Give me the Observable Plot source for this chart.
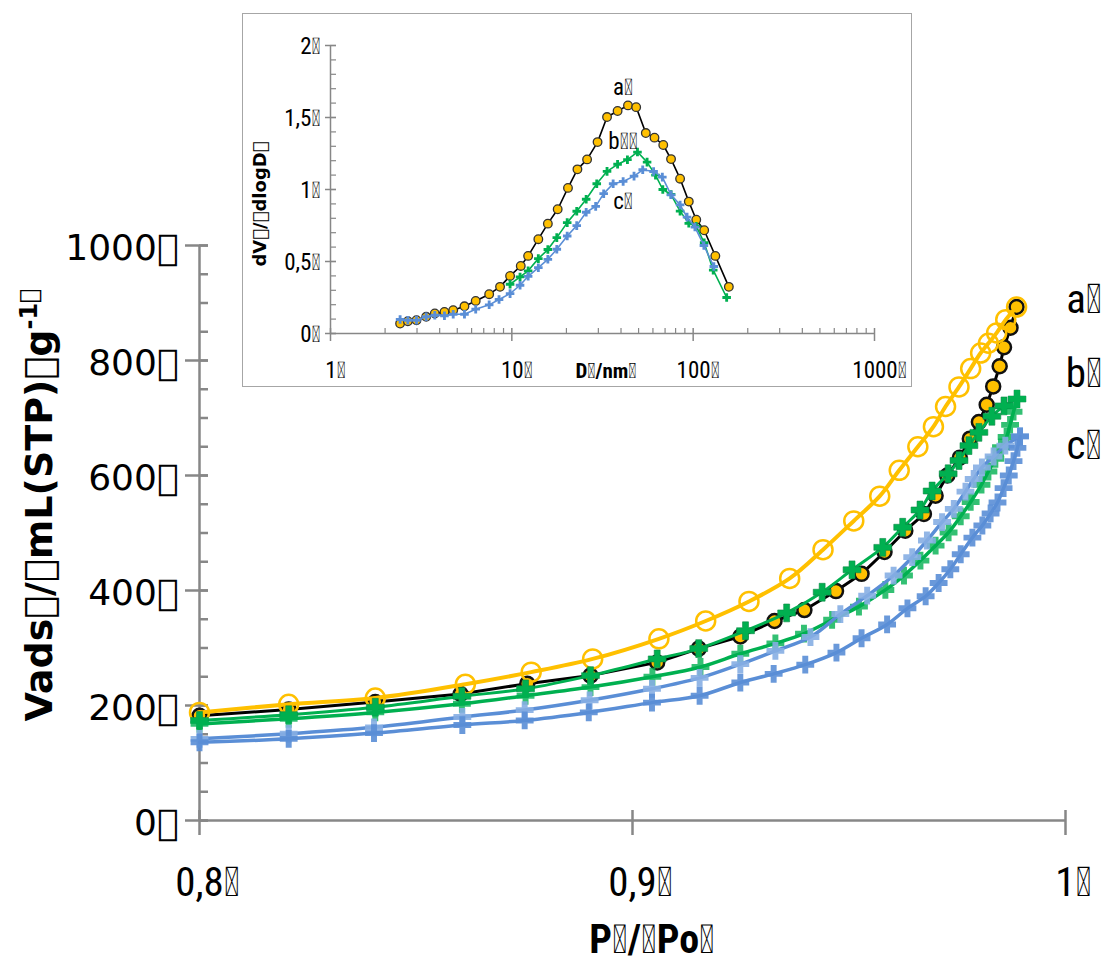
<!DOCTYPE html>
<html><head><meta charset="utf-8">
<script src="https://cdn.jsdelivr.net/npm/d3@7"></script>
<script src="https://cdn.jsdelivr.net/npm/@observablehq/plot@0.6"></script>
<style>
body{margin:0;background:#fff;}
#wrap{position:relative;width:1120px;height:967px;overflow:hidden;background:#fff;}
#main{position:absolute;left:0;top:0;}
#inset{position:absolute;left:242px;top:13px;width:670px;height:374px;}
#inset svg{outline:1.5px solid #a6a6a6;outline-offset:-1px;background:#fff;}
</style></head><body>
<div id="wrap"><div id="main"></div><div id="inset"></div></div>
<script>
const T = "\uF020";
const NARROW = "'Liberation Sans Narrow', 'Roboto Condensed', Roboto, sans-serif";
const WIDE = "'DejaVu Sans', Verdana, sans-serif";

// ---------- main chart: relative pressure P/Po vs adsorbed volume ----------
const xTicksMain = [0.8, 0.9, 1];
const yTicksMain = [0, 200, 400, 600, 800, 1000];
const seriesLabels = ["a", "b", "c"];

const aAdsP = [0.8, 0.8206, 0.8406, 0.8603, 0.8757, 0.8903, 0.9057, 0.9153, 0.9249, 0.9328, 0.9397, 0.9470, 0.9529, 0.9582, 0.9630, 0.9673, 0.9700, 0.9727, 0.9756, 0.9779, 0.9800, 0.9818, 0.9833, 0.9848, 0.9858, 0.9873, 0.9887];
const aAdsV = [182, 193, 206, 220, 238, 252, 275, 299, 320, 347, 366, 399, 429, 467, 504, 533, 565, 600, 631, 664, 693, 723, 755, 790, 823, 857, 893];

const aDesP = [0.8, 0.8206, 0.8406, 0.8614, 0.8766, 0.8908, 0.9061, 0.9169, 0.9269, 0.9363, 0.9440, 0.9511, 0.9571, 0.9616, 0.9659, 0.9695, 0.9723, 0.9754, 0.9781, 0.9804, 0.9822, 0.9841, 0.9862, 0.9887];
const aDesV = [188, 202, 213, 237, 258, 281, 316, 347, 381, 421, 471, 521, 564, 609, 650, 685, 720, 754, 786, 813, 830, 848, 871, 893];

const bDesP = [0.8, 0.8206, 0.8406, 0.8606, 0.8753, 0.8903, 0.9057, 0.9153, 0.9261, 0.9356, 0.9438, 0.9507, 0.9578, 0.9624, 0.9664, 0.9692, 0.9729, 0.9754, 0.9777, 0.9800, 0.9830, 0.9858, 0.9888];
const bDesV = [174, 184, 197, 216, 229, 252, 281, 299, 330, 361, 397, 436, 475, 510, 540, 573, 603, 626, 652, 675, 703, 721, 733];

const bAdsP = [0.8, 0.8206, 0.8406, 0.8606, 0.8753, 0.8903, 0.9046, 0.9157, 0.9249, 0.9330, 0.9396, 0.9461, 0.9523, 0.9584, 0.9627, 0.9665, 0.9700, 0.9730, 0.9758, 0.9781, 0.9806, 0.9822, 0.9838, 0.9851, 0.9864, 0.9872, 0.9880, 0.9888];
const bAdsV = [168, 177, 188, 203, 217, 232, 250, 267, 290, 308, 325, 349, 372, 401, 426, 452, 478, 501, 529, 554, 584, 607, 629, 649, 667, 688, 711, 733];

const cDesP = [0.8, 0.8206, 0.8403, 0.8607, 0.8751, 0.8901, 0.9045, 0.9155, 0.9249, 0.9330, 0.9411, 0.9480, 0.9542, 0.9603, 0.9646, 0.9680, 0.9715, 0.9742, 0.9769, 0.9788, 0.9807, 0.9834, 0.9861, 0.9895];
const cDesV = [142, 151, 162, 180, 192, 209, 229, 248, 272, 295, 319, 359, 391, 426, 458, 487, 519, 542, 572, 594, 614, 633, 652, 668];

const cAdsP = [0.8, 0.8206, 0.8403, 0.8607, 0.8751, 0.8899, 0.9045, 0.9155, 0.9249, 0.9326, 0.9399, 0.9471, 0.9529, 0.9588, 0.9635, 0.9677, 0.9707, 0.9734, 0.9758, 0.9785, 0.9808, 0.9827, 0.9843, 0.9857, 0.9869, 0.9880, 0.9889, 0.9895];
const cAdsV = [136, 142, 152, 166, 174, 188, 205, 217, 240, 255, 271, 292, 317, 341, 369, 390, 413, 437, 463, 492, 513, 534, 553, 578, 600, 625, 648, 668];

// ---------- inset: pore size distribution ----------
const insetXTicks = [1, 10, 100, 1000];
const insetYTicks = [0, 0.5, 1, 1.5, 2];

const aD = [2.42, 2.67, 2.98, 3.37, 3.76, 4.25, 4.75, 5.48, 6.32, 7.50, 8.61, 9.78, 11.2, 12.3, 14.0, 15.8, 17.9, 20.4, 23.0, 26.0, 29.7, 33.5, 38.3, 43.7, 48.5, 54.8, 61.2, 68.4, 75.5, 84.7, 94.6, 104, 115, 132.5, 157.3];
const aPSD = [0.069, 0.085, 0.092, 0.116, 0.139, 0.150, 0.162, 0.189, 0.226, 0.273, 0.324, 0.400, 0.469, 0.539, 0.655, 0.763, 0.863, 1.011, 1.140, 1.209, 1.329, 1.503, 1.545, 1.584, 1.572, 1.392, 1.360, 1.309, 1.211, 1.075, 0.916, 0.79, 0.717, 0.539, 0.324];

const bD = [9.78, 11.1, 12.3, 14.0, 15.8, 17.7, 20.2, 22.8, 25.7, 29.4, 33.5, 38.3, 43.4, 49.3, 55.7, 62, 68, 75.5, 84.7, 94.6, 104, 115, 129, 153];
const bPSD = [0.342, 0.393, 0.435, 0.520, 0.583, 0.666, 0.770, 0.849, 0.932, 1.040, 1.126, 1.175, 1.207, 1.260, 1.190, 1.10, 1.00, 0.965, 0.85, 0.765, 0.745, 0.63, 0.44, 0.25];

const cD = [2.42, 2.67, 2.98, 3.37, 3.76, 4.25, 4.75, 5.48, 6.32, 7.50, 8.50, 9.78, 11.1, 12.3, 14.0, 15.8, 17.7, 20.2, 22.8, 25.7, 29.0, 32.1, 36.2, 41.1, 47.2, 52.7, 60.5, 67.6, 75.5, 84.7, 92.5, 102.3, 114.6, 130];
const cPSD = [0.097, 0.092, 0.092, 0.116, 0.127, 0.123, 0.134, 0.134, 0.169, 0.199, 0.236, 0.277, 0.335, 0.397, 0.457, 0.515, 0.585, 0.677, 0.749, 0.842, 0.883, 0.971, 1.040, 1.056, 1.093, 1.137, 1.125, 1.086, 0.963, 0.893, 0.808, 0.739, 0.611, 0.465];

// ---------- build tables ----------
const tbl = (X, Y) => X.map((x, i) => ({x, y: Y[i]}));
const aAds = tbl(aAdsP, aAdsV), aDes = tbl(aDesP, aDesV);
const bAds = tbl(bAdsP, bAdsV), bDes = tbl(bDesP, bDesV);
const cAds = tbl(cAdsP, cAdsV), cDes = tbl(cDesP, cDesV);
const aIn = tbl(aD, aPSD), bIn = tbl(bD, bPSD), cIn = tbl(cD, cPSD);

const AXIS = "#878787";
const ORANGE = "#FFC000", GREEN = "#00B050", BLUE = "#5A8ED6", BLUE_L = "#86AEE3";
const comma = d => String(d).replace(".", ",") + T;

const main = Plot.plot({
  width: 1120, height: 967,
  marginLeft: 199, marginRight: 55, marginTop: 245, marginBottom: 147,
  x: {domain: [0.8, 1], axis: null},
  y: {domain: [0, 1000], axis: null},
  style: {background: "transparent", overflow: "visible"},
  marks: [
    Plot.ruleX([0.8], {stroke: AXIS, strokeWidth: 2.5}),
    Plot.ruleY([0], {stroke: AXIS, strokeWidth: 2.5}),
    Plot.axisY({ticks: d3.range(0, 1001, 50), anchor: "left", label: null, tickSize: 9, dx: 9, tickFormat: () => "", stroke: AXIS, strokeWidth: 2.5}),
    Plot.axisY({ticks: yTicksMain, anchor: "left", label: null, tickSize: 23, dx: 9, tickFormat: () => "", stroke: AXIS, strokeWidth: 2.5}),
    Plot.axisY({ticks: yTicksMain, anchor: "left", label: null, tickSize: 0, tickPadding: 21, tickFormat: d => d + T, fontSize: 36, fontFamily: WIDE, fill: "#000", dy: 3}),
    Plot.axisX({ticks: xTicksMain, anchor: "bottom", label: null, tickSize: 25, dy: -10, tickFormat: () => "", stroke: AXIS, strokeWidth: 2.5}),
    Plot.axisX({ticks: xTicksMain, anchor: "bottom", label: null, tickSize: 0, tickPadding: 62, lineAnchor: "middle", tickFormat: comma, fontSize: 41, fontFamily: NARROW, fill: "#000", dx: 8}),

    Plot.line(aAds, {x: "x", y: "y", stroke: "#000", strokeWidth: 3}),
    Plot.dot(aAds, {x: "x", y: "y", r: 7, fill: ORANGE, stroke: "#111", strokeWidth: 2.5}),
    Plot.line(aDes, {x: "x", y: "y", stroke: ORANGE, strokeWidth: 4, curve: "catmull-rom"}),
    Plot.dot(aDes, {x: "x", y: "y", r: 9.5, fill: "none", stroke: ORANGE, strokeWidth: 2.5}),

    Plot.line(bDes, {x: "x", y: "y", stroke: GREEN, strokeWidth: 3, curve: "catmull-rom"}),
    Plot.dot(bDes, {x: "x", y: "y", symbol: "cross", r: 7.5, fill: GREEN, stroke: "#0a8a44", strokeWidth: 0.6}),
    Plot.line(bAds, {x: "x", y: "y", stroke: GREEN, strokeWidth: 3.5, curve: "catmull-rom"}),
    Plot.dot(bAds, {x: "x", y: "y", symbol: "cross", r: 7.5, fill: GREEN, fillOpacity: 0.8}),

    Plot.line(cDes, {x: "x", y: "y", stroke: BLUE, strokeWidth: 3.5, curve: "catmull-rom"}),
    Plot.dot(cDes, {x: "x", y: "y", symbol: "cross", r: 7.5, fill: BLUE_L, fillOpacity: 0.9}),
    Plot.line(cAds, {x: "x", y: "y", stroke: BLUE, strokeWidth: 3.5, curve: "catmull-rom"}),
    Plot.dot(cAds, {x: "x", y: "y", symbol: "cross", r: 7.5, fill: BLUE, fillOpacity: 0.9})
  ]
});
document.getElementById("main").appendChild(main);

const ms = d3.select(main);
const yt = ms.append("text")
  .attr("transform", "translate(52,505) rotate(-90)")
  .attr("text-anchor", "middle")
  .style("font", `bold 38px ${WIDE}`).attr("fill", "#000");
yt.append("tspan").text(`Vads${T}/${T}mL(STP)${T}g`);
yt.append("tspan").attr("dy", -15).style("font-size", "24px").text(`-1${T}`);

ms.append("text").attr("x", 652).attr("y", 953).attr("text-anchor", "middle")
  .style("font", `bold 40px ${NARROW}`).attr("fill", "#000").text(`P${T}/${T}Po${T}`);

const labelY = [313, 387, 459];
seriesLabels.forEach((s, i) => {
  ms.append("text").attr("x", 1084).attr("y", labelY[i])
    .style("font", `41px ${NARROW}`).attr("fill", "#000").text(s + T);
});

// ---------- inset ----------
const minorLog = [];
[1, 10, 100].forEach(dec => { for (let m = 2; m <= 9; m++) minorLog.push(m * dec); });

const inset = Plot.plot({
  width: 670, height: 374,
  marginLeft: 88, marginRight: 38, marginTop: 32, marginBottom: 54,
  x: {type: "log", domain: [1, 1000], axis: null},
  y: {domain: [0, 2], axis: null},
  style: {background: "#fff", overflow: "visible"},
  marks: [
    Plot.ruleX([1], {stroke: AXIS, strokeWidth: 1.5}),
    Plot.ruleY([0], {stroke: AXIS, strokeWidth: 1.5}),
    Plot.axisY({ticks: d3.range(0, 21).map(d => d / 10), anchor: "left", label: null, tickSize: 6, dx: 6, tickFormat: () => "", stroke: AXIS, strokeWidth: 1.2}),
    Plot.axisY({ticks: insetYTicks, anchor: "left", label: null, tickSize: 11, dx: 6, tickFormat: () => "", stroke: AXIS, strokeWidth: 1.5}),
    Plot.axisY({ticks: insetYTicks, anchor: "left", label: null, tickSize: 0, tickPadding: 10, tickFormat: comma, fontSize: 23, fontFamily: NARROW, fill: "#000", dy: 1}),
    Plot.axisX({ticks: minorLog, anchor: "bottom", label: null, tickSize: 5, dy: -5, tickFormat: () => "", stroke: AXIS, strokeWidth: 1.2}),
    Plot.axisX({ticks: insetXTicks, anchor: "bottom", label: null, tickSize: 13, dy: -5, tickFormat: () => "", stroke: AXIS, strokeWidth: 1.5}),
    Plot.axisX({ticks: insetXTicks, anchor: "bottom", label: null, tickSize: 0, tickPadding: 37, lineAnchor: "middle", tickFormat: d => d + T, fontSize: 23, fontFamily: NARROW, fill: "#000", dx: 5}),

    Plot.line(aIn, {x: "x", y: "y", stroke: "#000", strokeWidth: 1.6}),
    Plot.dot(aIn, {x: "x", y: "y", r: 4.3, fill: ORANGE, stroke: "#333", strokeWidth: 1.3}),
    Plot.line(bIn, {x: "x", y: "y", stroke: GREEN, strokeWidth: 1.6}),
    Plot.dot(bIn, {x: "x", y: "y", symbol: "cross", r: 3.6, fill: GREEN}),
    Plot.line(cIn, {x: "x", y: "y", stroke: BLUE, strokeWidth: 1.6}),
    Plot.dot(cIn, {x: "x", y: "y", symbol: "cross", r: 3.6, fill: BLUE})
  ]
});
document.getElementById("inset").appendChild(inset);

const is = d3.select(inset);
is.append("text").attr("transform", "translate(24,191) rotate(-90)").attr("text-anchor", "middle")
  .style("font", `bold 18px ${WIDE}`).attr("fill", "#000").text(`dV${T}/${T}dlogD${T}`);
is.append("text").attr("x", 364).attr("y", 365).attr("text-anchor", "middle")
  .style("font", `bold 21px ${NARROW}`).attr("fill", "#000").text(`D${T}/nm${T}`);
const inLab = [["a" + T, 82], ["b" + T + T, 136], ["c" + T, 196]];
inLab.forEach(([t, y]) => {
  is.append("text").attr("x", 381).attr("y", y)
    .style("font", `23px ${NARROW}`).attr("fill", "#000").text(t);
});
</script>
</body></html>
